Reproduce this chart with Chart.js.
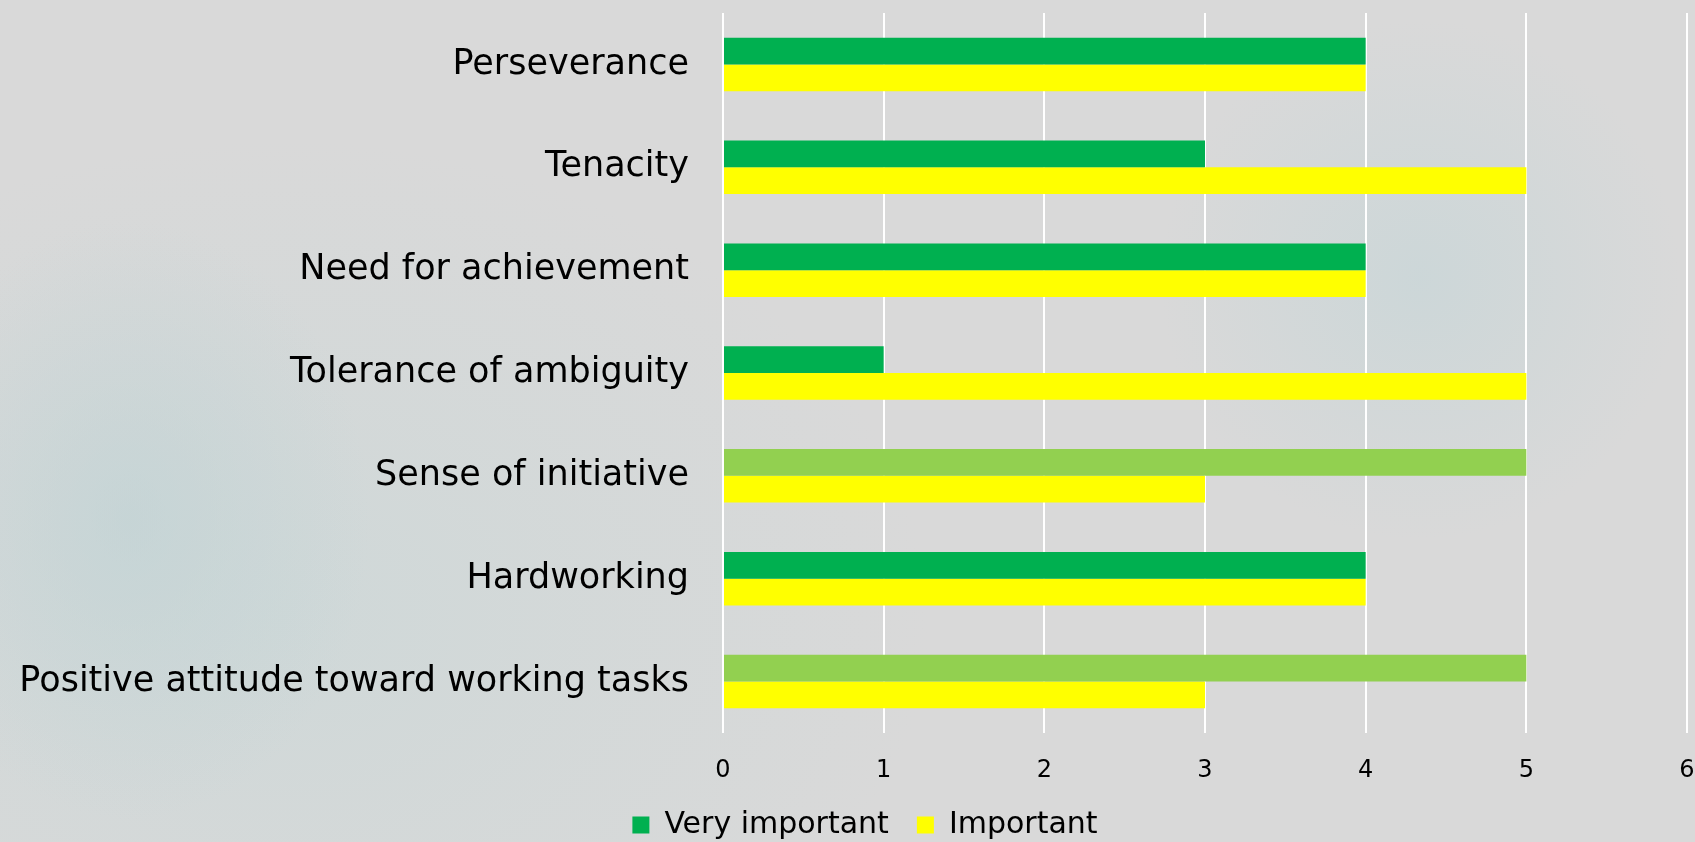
<!DOCTYPE html>
<html>
<head>
<meta charset="utf-8">
<script src="https://cdn.jsdelivr.net/npm/chart.js@4"></script>
<style>
  html, body { margin: 0; padding: 0; }
  body {
    width: 1695px; height: 842px; overflow: hidden;
    background:
      radial-gradient(ellipse 240px 300px at 130px 520px, rgba(190,210,212,0.6), rgba(190,210,212,0) 100%),
      radial-gradient(ellipse 260px 260px at 1420px 280px, rgba(200,214,216,0.75), rgba(200,214,216,0) 100%),
      radial-gradient(ellipse 650px 480px at 280px 620px, rgba(203,216,216,0.7), rgba(203,216,216,0) 100%),
      #d9d9d9;
  }
  #wrap { position: relative; width: 1695px; height: 842px; }
</style>
</head>
<body>
<div id="wrap"><canvas id="chart"></canvas></div>
<script>
const categories = [
  'Perseverance',
  'Tenacity',
  'Need for achievement',
  'Tolerance of ambiguity',
  'Sense of initiative',
  'Hardworking',
  'Positive attitude toward working tasks'
];
const veryImportant = [4, 3, 4, 1, 5, 4, 5];
const important = [4, 5, 4, 5, 3, 4, 3];
const xTicks = [0, 1, 2, 3, 4, 5, 6];

// per-bar colours used in the original (two bars are lighter green)
const darkGreen = '#00b050';
const lightGreen = '#92d050';
const veryColors = [darkGreen, darkGreen, darkGreen, darkGreen, lightGreen, darkGreen, lightGreen];

const FONT = "'DejaVu Sans', sans-serif";
const PLOT_LEFT = 723;
const PLOT_BOTTOM = 733;
const PAD_RIGHT = -35;   // widens the legend box so it centres like the original
const PAD_BOTTOM = -8;

new Chart(document.getElementById('chart'), {
  type: 'bar',
  data: {
    labels: categories,
    datasets: [
      {
        label: 'Very important',
        data: veryImportant,
        backgroundColor: ctx => ctx.dataIndex === undefined ? darkGreen : veryColors[ctx.dataIndex],
        borderWidth: 0,
        categoryPercentage: 0.52,
        barPercentage: 1
      },
      {
        label: 'Important',
        data: important,
        backgroundColor: '#ffff00',
        borderWidth: 0,
        categoryPercentage: 0.52,
        barPercentage: 1
      }
    ]
  },
  options: {
    indexAxis: 'y',
    responsive: true,
    maintainAspectRatio: false,
    animation: false,
    layout: { padding: { top: 13, right: PAD_RIGHT, bottom: PAD_BOTTOM, left: 0 } },
    scales: {
      x: {
        min: 0, max: 6,
        afterBuildTicks: scale => { scale.ticks = xTicks.map(v => ({ value: v })); },
        afterFit: scale => {
          const lg = scale.chart.legend ? scale.chart.legend.height : 0;
          scale.height = scale.chart.height - PAD_BOTTOM - PLOT_BOTTOM - lg;
          scale.paddingLeft = 0;
          scale.paddingRight = 8;
        },
        grid: { color: '#ffffff', lineWidth: 2, drawTicks: false },
        border: { display: false },
        ticks: { color: '#000000', padding: 23, font: { family: FONT, size: 24 } }
      },
      y: {
        afterFit: scale => {
          scale.width = PLOT_LEFT;
          scale.paddingTop = 0;
          scale.paddingBottom = 0;
        },
        grid: { display: false },
        border: { display: false },
        ticks: { color: '#000000', padding: 26, font: { family: FONT, size: 35 } }
      }
    },
    plugins: {
      legend: {
        position: 'bottom',
        labels: {
          color: '#000000',
          boxWidth: 17,
          boxHeight: 17,
          padding: 28,
          font: { family: FONT, size: 30 }
        }
      },
      tooltip: { enabled: false }
    }
  }
});
</script>
</body>
</html>
